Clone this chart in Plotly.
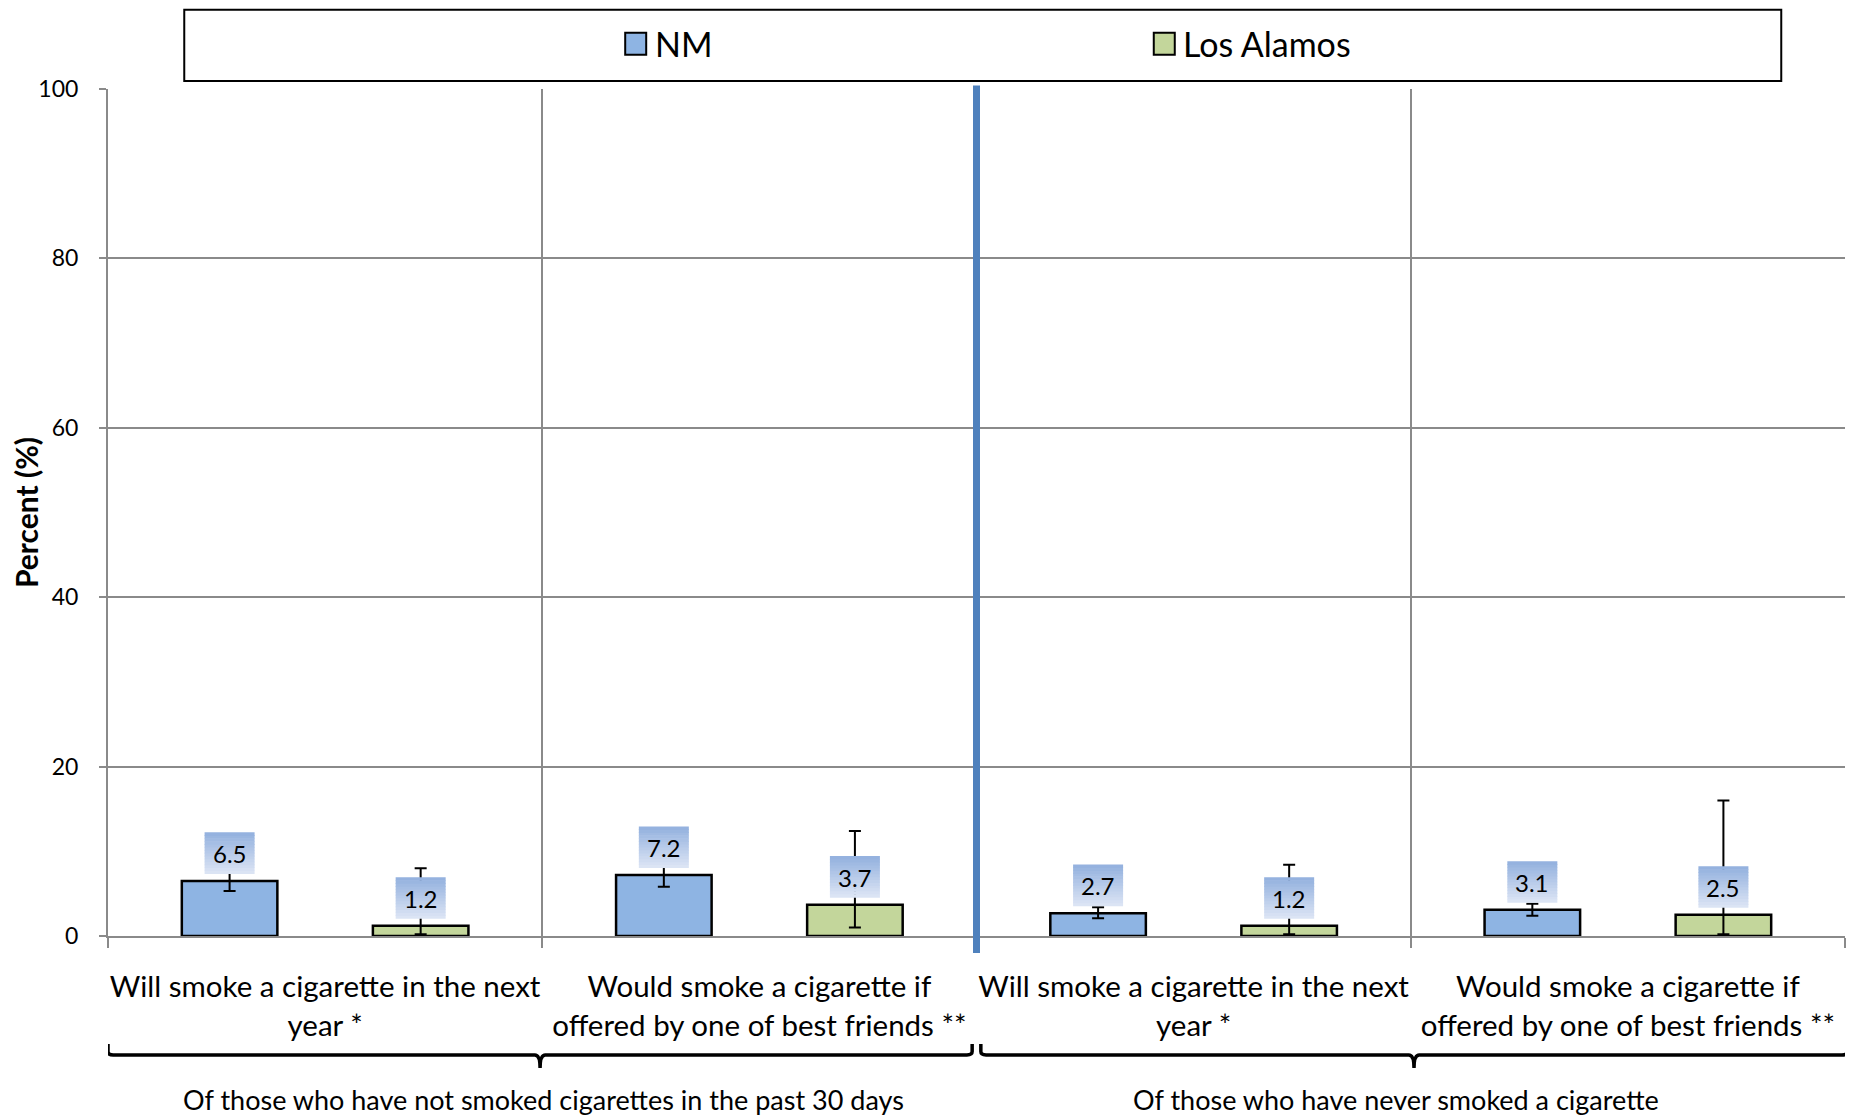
import plotly.graph_objects as go

# ---------------- data ----------------
categories = [
    "Will smoke a cigarette in the next<br>year *",
    "Would smoke a cigarette if<br>offered by one of best friends **",
    "Will smoke a cigarette in the next<br>year *",
    "Would smoke a cigarette if<br>offered by one of best friends **",
]
series_names = ["NM", "Los Alamos"]
nm_values = [6.5, 7.2, 2.7, 3.1]
nm_lower = [5.3, 5.8, 2.1, 2.4]
nm_upper = [7.7, 8.6, 3.4, 3.8]
la_values = [1.2, 3.7, 1.2, 2.5]
la_lower = [0.2, 1.0, 0.2, 0.2]
la_upper = [8.0, 12.4, 8.4, 16.0]
group_labels = [
    "Of those who have not smoked cigarettes in the past 30 days",
    "Of those who have never smoked a cigarette",
]
y_ticks = [0, 20, 40, 60, 80, 100]

# ---------------- style ----------------
FONT = "Lato"
NM_COLOR = "#8EB4E3"
LA_COLOR = "#C3D69B"
GRID = "#8a8a8a"
BAR_W = 0.22
OFFSETS = [-0.33, 0.11]
GROUP_LABEL_SHIFT = [3, -18]

idx = list(range(len(categories)))
fig = go.Figure()

series = [
    (series_names[0], nm_values, nm_lower, nm_upper, NM_COLOR),
    (series_names[1], la_values, la_lower, la_upper, LA_COLOR),
]
for k, (name, vals, lo, hi, col) in enumerate(series):
    fig.add_trace(go.Bar(
        x=idx, y=vals, name=name, width=BAR_W, offset=OFFSETS[k],
        marker=dict(color=col, line=dict(color="black", width=2.5)),
        error_y=dict(type="data", symmetric=False,
                     array=[h - v for h, v in zip(hi, vals)],
                     arrayminus=[v - l for v, l in zip(vals, lo)],
                     color="black", thickness=2, width=6),
        showlegend=False,
    ))

# data labels: gradient boxes + text
top_rgb = (146, 176, 222)
bot_rgb = (222, 230, 245)
N_STRIPS = 14
BOX_H = 41
BOX_HALF_W = 25
GAP = 7
for k, (name, vals, lo, hi, col) in enumerate(series):
    for i, v in zip(idx, vals):
        xc = i + OFFSETS[k] + BAR_W / 2
        for s in range(N_STRIPS):
            t = (s + 0.5) / N_STRIPS
            c = tuple(int(round(bot_rgb[j] + (top_rgb[j] - bot_rgb[j]) * t)) for j in range(3))
            fig.add_shape(type="rect", xref="x", yref="y",
                          xsizemode="pixel", ysizemode="pixel",
                          xanchor=xc, yanchor=v,
                          x0=-BOX_HALF_W, x1=BOX_HALF_W,
                          y0=GAP + BOX_H * s / N_STRIPS,
                          y1=GAP + BOX_H * (s + 1) / N_STRIPS + 0.6,
                          fillcolor="rgb(%d,%d,%d)" % c, line=dict(width=0),
                          layer="above")
        fig.add_annotation(x=xc, y=v, xref="x", yref="y", text=f"{v:.1f}",
                           showarrow=False, yanchor="middle", yshift=GAP + BOX_H / 2,
                           font=dict(family=FONT, size=24, color="black"))

# thick blue divider
fig.add_shape(type="line", xref="x", yref="paper", x0=1.5, x1=1.5,
              y0=-0.02, y1=1.004, line=dict(color="#4F81BD", width=7), layer="above")

# group brackets
def bracket(xa, xb, ytop, ymid, ybot, r=0.012):
    xm = (xa + xb) / 2
    return (f"M {xa},{ytop} L {xa},{ymid + 0.004} Q {xa},{ymid} {xa + r},{ymid} "
            f"L {xm - r},{ymid} Q {xm},{ymid} {xm},{ybot} "
            f"Q {xm},{ymid} {xm + r},{ymid} L {xb - r},{ymid} "
            f"Q {xb},{ymid} {xb},{ymid + 0.004} L {xb},{ytop}")

for g, (xa, xb) in enumerate([(-0.5, 1.49), (1.51, 3.505)]):
    fig.add_shape(type="path", xref="x", yref="paper",
                  path=bracket(xa, xb, -0.1276, -0.1405, -0.1559),
                  line=dict(color="black", width=3.5))
    fig.add_annotation(x=(xa + xb) / 2, y=-0.1925, xref="x", yref="paper",
                       text=group_labels[g], showarrow=False, yanchor="middle",
                       xshift=GROUP_LABEL_SHIFT[g],
                       font=dict(family=FONT, size=27, color="black"))

# legend (box + swatches + text)
fig.add_shape(type="rect", xref="paper", yref="paper", x0=0.0439, x1=0.9633,
              y0=1.0094, y1=1.0935, line=dict(color="black", width=2), fillcolor="white")
legend_x = [0.3038, 0.6081]
for name, col, lx in zip(series_names, [NM_COLOR, LA_COLOR], legend_x):
    fig.add_shape(type="rect", xref="paper", yref="paper",
                  xsizemode="pixel", ysizemode="pixel", xanchor=lx, yanchor=1.0535,
                  x0=-10.5, x1=10.5, y0=-11, y1=11,
                  fillcolor=col, line=dict(color="black", width=2))
    fig.add_annotation(x=lx, y=1.0535, xref="paper", yref="paper", text=name,
                       showarrow=False, xanchor="left", yanchor="middle", xshift=17,
                       font=dict(family=FONT, size=34, color="black"))

# page body adds an 8px margin; compensate so the plot lands where the reference has it
fig.update_layout(
    width=1850, height=1110,
    margin=dict(l=100, r=13, t=81, b=182),
    paper_bgcolor="white", plot_bgcolor="white",
    barmode="overlay",
    font=dict(family=FONT, color="black"),
    xaxis=dict(
        range=[-0.5, 3.5], tickvals=idx, ticktext=categories,
        showgrid=False, ticks="", showline=True, linecolor=GRID, linewidth=2,
        tickfont=dict(family=FONT, size=29.5, color="black"),
        ticklabelstandoff=24, automargin=False,
        minor=dict(tickvals=[-0.5, 0.5, 1.5, 2.5, 3.5], showgrid=True,
                   gridcolor=GRID, gridwidth=1.5, ticks="outside", ticklen=10,
                   tickcolor=GRID, tickwidth=2),
        zeroline=False,
    ),
    yaxis=dict(
        range=[0, 100], tickvals=y_ticks, showgrid=True, gridcolor=GRID, gridwidth=1.5,
        ticks="outside", ticklen=7, tickcolor=GRID, tickwidth=2,
        showline=True, linecolor=GRID, linewidth=2, zeroline=False,
        tickfont=dict(family=FONT, size=23, color="black"),
        ticklabelstandoff=16, automargin=False,
        title=dict(text="<b>Percent (%)</b>", font=dict(family=FONT, size=30, color="black"),
                   standoff=12),
    ),
)

fig.write_html("out.html")
